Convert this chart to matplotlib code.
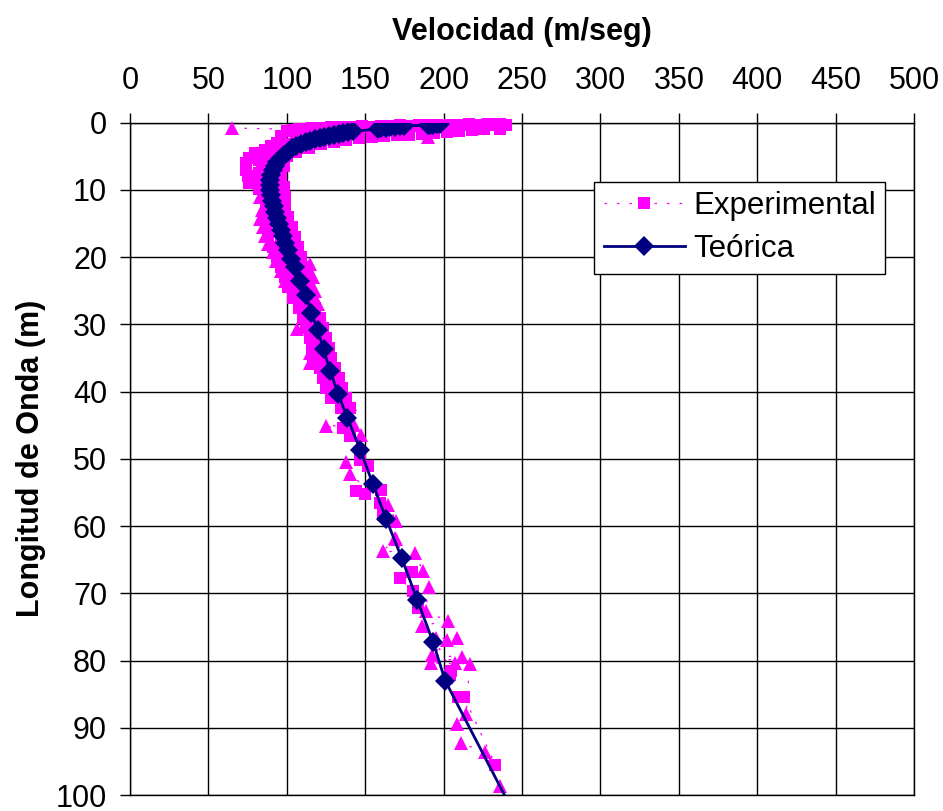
import numpy as np
import matplotlib
matplotlib.use('Agg')
import matplotlib.pyplot as plt

plt.rcParams['font.family'] = ['Liberation Sans', 'DejaVu Sans']

# --- Datos experimentales (cuadrados) ---
exp_cuad_vel = [
    240, 236, 232, 228, 224, 220, 216, 212, 208, 204, 200, 196, 192, 188, 184, 180, 176, 172,
    168, 164, 160, 156, 152, 148, 144, 140, 136, 132, 128, 124, 120, 116, 112, 108, 104, 100,
    236, 226, 218, 210, 202, 194, 186, 178, 170, 162, 154, 146, 138, 130, 122, 114, 106,
    190, 175, 160, 145, 130, 118, 106, 98,
    96, 94, 90, 86, 80, 76, 74, 74, 75, 76, 82,
    100, 95, 88, 82, 100, 92, 84, 98, 90, 82, 96, 88, 82, 98, 92,
    87, 93, 99, 87, 93, 99, 86, 93, 101, 87, 95, 103, 88, 96, 105,
    91, 99, 107, 94, 101, 109, 96, 103, 111, 99, 106, 113, 101, 107, 114,
    104, 110, 116, 108, 113, 118, 110, 115, 121, 112, 117, 123, 115, 120, 125,
    116, 121, 127, 117, 123, 128, 121, 126, 131, 123, 128, 133, 125, 130, 135, 128, 133, 138,
    134.8, 140.1, 135.9, 140.1, 146.5, 151.8, 160.3, 144.4, 149.7, 159.2, 161.3,
    180, 172, 180.4, 183.6, 203.8, 205, 209, 213, 233,
]
exp_cuad_long = [
    0.3, 0.2, 0.4, 0.2, 0.3, 0.4, 0.2, 0.3, 0.4, 0.3, 0.5, 0.3, 0.4, 0.5, 0.4, 0.5, 0.6, 0.4,
    0.5, 0.6, 0.5, 0.6, 0.7, 0.5, 0.6, 0.7, 0.6, 0.8, 0.7, 0.8, 0.9, 0.8, 0.9, 1.0, 1.1, 1.2,
    1.0, 1.0, 1.1, 1.2, 1.4, 1.5, 1.7, 1.8, 1.9, 2.0, 2.2, 2.3, 2.6, 2.8, 3.2, 3.7, 4.3,
    1.0, 1.2, 1.4, 1.6, 1.9, 2.2, 2.8, 3.2,
    2.0, 3.0, 3.5, 4.0, 4.5, 5.2, 6.0, 7.0, 8.0, 9.0, 9.8,
    3.5, 4.3, 4.8, 5.5, 5.0, 5.8, 6.5, 6.5, 7.2, 7.5, 8.0, 8.5, 9.0, 9.5, 10.0,
    11.0, 11.0, 11.0, 12.5, 12.5, 12.5, 14.0, 14.0, 14.0, 15.5, 15.5, 15.5, 17.0, 17.0, 17.0,
    18.5, 18.5, 18.5, 20.0, 20.0, 20.0, 21.5, 21.5, 21.5, 23.0, 23.0, 23.0, 24.5, 24.5, 24.5,
    26.0, 26.0, 26.0, 27.5, 27.5, 27.5, 29.0, 29.0, 29.0, 30.5, 30.5, 30.5, 32.0, 32.0, 32.0,
    33.5, 33.5, 33.5, 35.0, 35.0, 35.0, 36.5, 36.5, 36.5, 38.0, 38.0, 38.0, 39.5, 39.5, 39.5, 41.0, 41.0, 41.0,
    42.4, 42.4, 45.4, 46.6, 50.1, 51.1, 54.6, 54.8, 55.3, 56.6, 58.3,
    66.8, 67.7, 69.7, 72.2, 82.2, 81.6, 85.4, 85.4, 95.5,
]

# --- Datos experimentales (triangulos) ---
exp_tri_vel = [
    65, 190, 160, 130, 110, 95, 85, 82, 83,
    84, 83, 85, 86, 88, 91, 93, 96, 99,
    115, 117, 118, 120, 122, 124, 126, 128, 131, 133, 136, 139, 143, 147.6,
    106.2, 114.6, 114.6, 140.1, 124.8, 138, 140.1, 164.5, 169.8, 168.8, 161.3, 169.4,
    181.5, 186.8, 190.4, 188.5, 186.2, 202.7, 195.3, 202.3, 208.5, 192.8, 211.9, 216.6,
    192.2, 207, 214.4, 208.7, 211.3, 226.1, 235.7,
]
exp_tri_long = [
    0.8, 2.2, 1.2, 2.4, 3.6, 5.0, 7.0, 9.0, 11.0,
    13.0, 14.3, 15.5, 16.8, 18.0, 19.2, 20.5, 22.0, 23.5,
    21, 23, 25, 27, 29, 31, 33, 35, 37, 39, 41, 43, 45, 46.4,
    30.7, 34.2, 35.7, 41.9, 45.1, 50.5, 52.3, 56.8, 59.3, 61.8, 63.7, 61.9,
    64.0, 66.7, 69.0, 72.7, 74.8, 74.1, 76.7, 76.9, 76.7, 79.2, 79.5, 80.5,
    80.4, 80.4, 87.9, 89.4, 92.3, 93.6, 98.7,
]

# --- Curva teorica ---
teo_vel = [
    197.5, 195.5, 193.5, 191.5, 190,
    175, 172, 169, 166, 163, 160, 158,
    142, 139, 136, 133, 130, 127, 124, 121, 118, 115, 112, 109, 106, 103, 100.5, 98, 96, 94,
    92.3, 91, 90, 89.4, 89.2, 89.4, 90, 90.7, 91.5, 92.5, 93.6, 94.8, 96.0, 97.3, 98.8,
    100.5, 102.5, 105, 108.3, 112.1, 115.7, 119.7, 123.4, 127.6, 132.7, 138.6, 146.9,
    154.8, 163.3, 173.3, 183.2, 193.2, 201.0, 261,
]
teo_long = [
    0.2, 0.25, 0.3, 0.35, 0.4,
    0.45, 0.5, 0.6, 0.65, 0.75, 0.85, 0.95,
    1.3, 1.4, 1.5, 1.65, 1.8, 2.0, 2.15, 2.3, 2.45, 2.65, 2.85, 3.1, 3.4, 3.8, 4.3, 4.8, 5.3, 5.9,
    6.5, 7.1, 7.8, 8.5, 9.2, 10.0, 10.8, 11.6, 12.4, 13.3, 14.2, 15.1, 16.0, 16.9, 17.9,
    19.0, 20.2, 21.5, 23.6, 25.7, 28.3, 30.9, 33.7, 36.9, 40.3, 43.9, 48.7,
    53.7, 58.9, 64.8, 71.0, 77.2, 83.0, 110,
]

magenta = '#FF00FF'
azul = '#000080'
punteado = (0, (2, 8))

fig = plt.figure(figsize=(9.43, 8.11), dpi=100)
ax = fig.add_axes([0.1379, 0.0197, 0.8314, 0.829])

# ordenar por longitud para la linea punteada
oc = np.argsort(exp_cuad_long, kind='stable')
ot = np.argsort(exp_tri_long, kind='stable')
ax.plot(np.array(exp_cuad_vel)[oc], np.array(exp_cuad_long)[oc], linestyle=punteado,
        lw=0.9, color=magenta, marker='s', markersize=9, markeredgewidth=0,
        label='Experimental', clip_on=False, zorder=3)
ax.plot(np.array(exp_tri_vel)[ot], np.array(exp_tri_long)[ot], linestyle=punteado,
        lw=0.9, color=magenta, marker='^', markersize=9.5, markeredgewidth=0,
        label='_nolegend_', clip_on=False, zorder=3)
ax.plot(teo_vel, teo_long, '-', lw=2, color=azul, marker='D', markersize=10.5,
        markeredgewidth=0, label='Teórica', zorder=4)

ax.set_xlim(0, 500)
ax.set_ylim(100, 0)
ax.set_xticks(np.arange(0, 501, 50))
ax.set_yticks(np.arange(0, 101, 10))
ax.xaxis.tick_top()
ax.xaxis.set_label_position('top')
ax.tick_params(axis='both', labelsize=22, length=7, width=1, color='black')
ax.tick_params(axis='x', pad=12)
ax.tick_params(axis='y', pad=9.5)
ax.grid(True, color='black', lw=1)
ax.set_axisbelow(True)
for s in ax.spines.values():
    s.set_color('black')
    s.set_linewidth(1)

ax.set_xlabel('Velocidad (m/seg)', fontsize=22, fontweight='bold', labelpad=19)
ax.set_ylabel('Longitud de Onda (m)', fontsize=22, fontweight='bold', labelpad=7)

leg = ax.legend(loc='upper right', bbox_to_anchor=(0.963, 0.912), fontsize=22.5,
                frameon=True, fancybox=False, framealpha=1, edgecolor='black',
                handlelength=2.6, handletextpad=0.25, labelspacing=0.42,
                borderpad=0.3, borderaxespad=0)
leg.get_frame().set_linewidth(1)

fig.savefig('out.png', dpi=100)
